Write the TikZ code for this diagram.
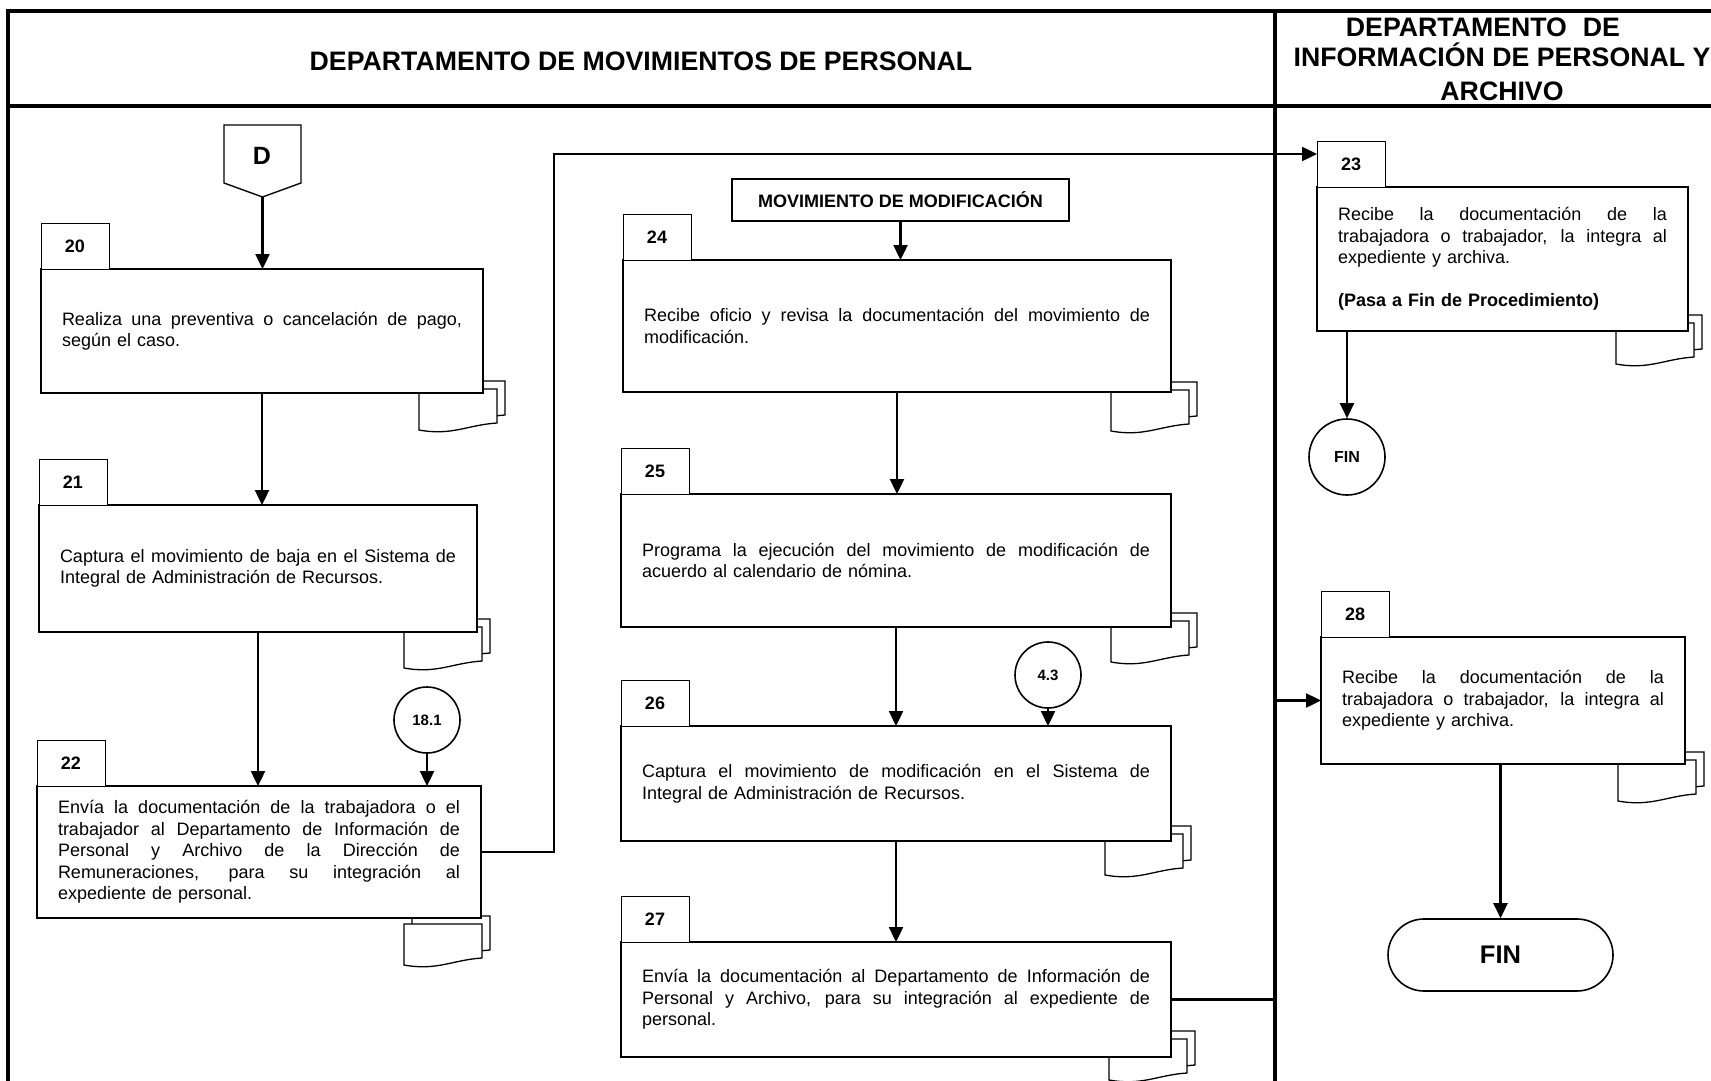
\documentclass[tikz,border=0pt]{standalone}
\usepackage{fontspec}
\setmainfont{Liberation Sans}
\usetikzlibrary{arrows.meta,shapes.misc,calc}

% font sizes used in the chart
\newcommand\txtbody{\fontsize{18}{21.5}\selectfont}
\newcommand\txttab{\fontsize{18}{21.5}\selectfont\bfseries}
\newcommand\txthead{\fontsize{26.7}{35}\selectfont\bfseries}
% one fully justified line of a step description (stretchable word spaces)
\newcommand\jline[1]{{\spaceskip=0pt\xspaceskip=0pt\makebox[\hsize][s]{#1}}}

\tikzset{
  lane/.style={line width=3.4pt},
  stepbox/.style={draw, line width=1.8pt, fill=white, rectangle, inner xsep=21pt,
    inner ysep=0pt, outer sep=0pt, anchor=north west, align=left, font=\txtbody},
  numtab/.style={draw, line width=1pt, fill=white, minimum width=68pt,
    minimum height=46pt, anchor=south west, inner sep=0pt, outer sep=0pt, font=\txttab},
  connector/.style={draw, circle, line width=1.6pt, minimum size=66pt, inner sep=0pt,
    fill=white, font=\fontsize{15}{18}\selectfont\bfseries},
  flow/.style={line width=2.4pt, -{Triangle[length=15pt,width=14pt]}},
  docstack/.pic={
    \path[draw, line width=1.3pt, fill=white]
      (-70,-8) -- (8,-8) -- (8,26) .. controls (-22,28) and (-37,39) .. (-70,33) -- cycle;
    \path[draw, line width=1.3pt, fill=white]
      (-78,0) -- (0,0) -- (0,34) .. controls (-30,36) and (-45,47) .. (-78,41) -- cycle;
  }
}

\begin{document}
\begin{tikzpicture}[x=1pt,y=-1pt]
\useasboundingbox (0,0) rectangle (1711,1081);

% swimlane frame
\draw[lane] (8,11) -- (1711,11);
\draw[lane] (8,9.3) -- (8,1081);
\draw[lane] (8,106) -- (1711,106);
\draw[lane] (1275,11) -- (1275,1081);

\node[font=\txthead] (hleft) at (641,61) {DEPARTAMENTO DE MOVIMIENTOS DE PERSONAL};
\node[font=\txthead, inner sep=0pt] (hright1) at (1483,27)
  {DEPARTAMENTO\hspace{16pt}DE};
\node[font=\txthead, align=center] (hright2) at (1502,72)
  {INFORMACIÓN DE PERSONAL Y\\[-1pt]ARCHIVO};

% document stacks behind the step boxes
\pic at (497,389) {docstack};
\pic at (482,627) {docstack};
\pic at (482,924) {docstack};
\pic at (1694,323) {docstack};
\pic at (1189,390) {docstack};
\pic at (1189,621) {docstack};
\pic at (1183,834) {docstack};
\pic at (1187,1039) {docstack};
\pic at (1696,760) {docstack};

% off-page connector D
\node[minimum width=77pt, minimum height=72pt, anchor=north west, inner sep=0pt, outer sep=0pt]
  (D) at (224,125) {};
\draw[line width=1.4pt] (D.north west) -- (D.north east) -- ([yshift=14pt]D.south east)
  -- (D.south) -- ([yshift=14pt]D.south west) -- cycle;
\node[font=\fontsize{25}{30}\selectfont\bfseries] (Dlbl) at (262,156) {D};

% left lane, first column
\node[stepbox, text width=400pt, minimum height=124pt] (b20) at (41,269)
  {\jline{Realiza una preventiva o cancelación de pago,}\\según el caso.};
\node[numtab] (t20) at (b20.north west) {20};

\node[stepbox, text width=396pt, minimum height=127pt] (b21) at (39,505)
  {\jline{Captura el movimiento de baja en el Sistema de}\\Integral de Administración de Recursos.};
\node[numtab] (t21) at (b21.north west) {21};

\node[stepbox, text width=402pt, minimum height=132pt] (b22) at (37,786)
  {\jline{Envía la documentación de la trabajadora o el}\\
   \jline{trabajador al Departamento de Información de}\\
   \jline{Personal y Archivo de la Dirección de}\\
   \jline{Remuneraciones, para su integración al}\\
   expediente de personal.};
\node[numtab] (t22) at (b22.north west) {22};

\node[connector] (c181) at (427,720) {18.1};

% left lane, second column
\node[draw, line width=1.4pt, fill=white, minimum width=337pt, minimum height=42pt,
  anchor=north west, inner sep=0pt, outer sep=0pt, font=\txttab] (mov) at (732,179)
  {MOVIMIENTO DE MODIFICACIÓN};

\node[stepbox, text width=506pt, minimum height=132pt] (b24) at (623,260)
  {\jline{Recibe oficio y revisa la documentación del movimiento de}\\modificación.};
\node[numtab] (t24) at (b24.north west) {24};

\node[stepbox, text width=508pt, minimum height=133pt] (b25) at (621,494)
  {\jline{Programa la ejecución del movimiento de modificación de}\\acuerdo al calendario de nómina.};
\node[numtab] (t25) at (b25.north west) {25};

\node[connector] (c43) at (1048,675) {4.3};

\node[stepbox, text width=508pt, minimum height=115pt] (b26) at (621,726)
  {\jline{Captura el movimiento de modificación en el Sistema de}\\Integral de Administración de Recursos.};
\node[numtab] (t26) at (b26.north west) {26};

\node[stepbox, text width=508pt, minimum height=115pt] (b27) at (621,942)
  {\jline{Envía la documentación al Departamento de Información de}\\
   \jline{Personal y Archivo, para su integración al expediente de}\\
   personal.};
\node[numtab] (t27) at (b27.north west) {27};

% right lane
\node[stepbox, text width=329pt, minimum height=144pt] (b23) at (1317,187)
  {\jline{Recibe la documentación de la}\\
   \jline{trabajadora o trabajador, la integra al}\\
   expediente y archiva.\\[21.5pt]
   \textbf{(Pasa a Fin de Procedimiento)}};
\node[numtab] (t23) at (b23.north west) {23};

\node[draw, circle, line width=1.6pt, minimum size=76pt, inner sep=0pt,
  font=\fontsize{16}{19}\selectfont\bfseries] (fin1) at (1347,457) {FIN};

\node[stepbox, text width=322pt, minimum height=127pt] (b28) at (1321,637)
  {\jline{Recibe la documentación de la}\\
   \jline{trabajadora o trabajador, la integra al}\\
   expediente y archiva.};
\node[numtab] (t28) at (b28.north west) {28};

\node[draw, rounded rectangle, line width=1.6pt, minimum width=225pt, minimum height=72pt,
  inner sep=0pt, font=\fontsize{25.5}{30}\selectfont\bfseries] (fin2) at (1500.5,955) {FIN};

% routing points of the long connectors
\coordinate (r1) at (554,154);
\coordinate (r2) at (1275,0);

% connectors
\draw[flow] (D.south) -- (D.south |- b20.north);
\draw[flow] (b20.south) -- (b20.south |- b21.north);
\draw[flow] (b21.south) -- (b21.south |- b22.north);
\draw[flow] (c181.south) -- (c181.south |- b22.north);
\draw[flow] (b22.east) -| (r1) -- (r1 -| t23.west);
\draw[flow] (mov.south) -- (mov.south |- b24.north);
\draw[flow] (b24.south) -- (b24.south |- b25.north);
\draw[flow] (b25.south) -- (b25.south |- b26.north);
\draw[flow] (c43.south) -- (c43.south |- b26.north);
\draw[flow] (b26.south) -- (b26.south |- b27.north);
\draw[flow] (b27.east) -- (b27.east -| r2) -- (r2 |- b28.west) -- (b28.west);
\draw[flow] (fin1.north |- b23.south) -- (fin1.north);
\draw[flow] (fin2.north |- b28.south) -- (fin2.north);
\end{tikzpicture}
\end{document}
